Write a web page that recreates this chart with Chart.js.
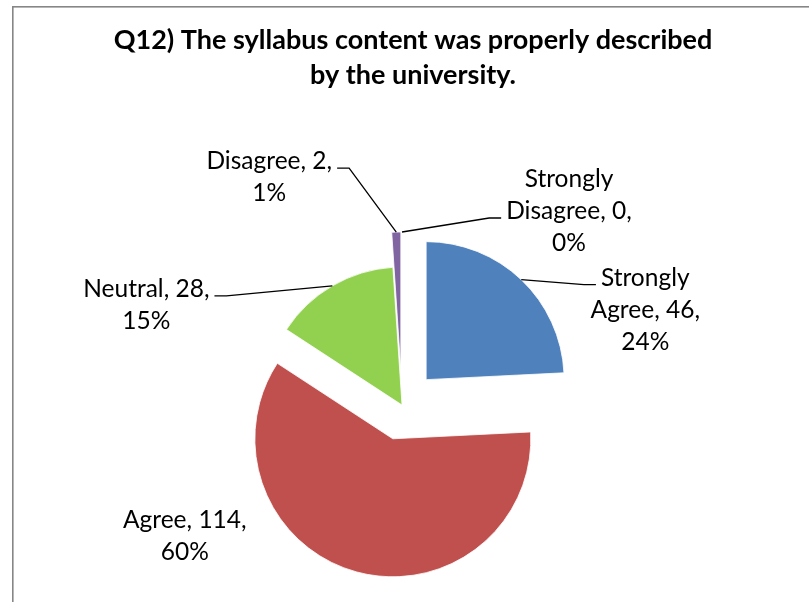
<!DOCTYPE html>
<html><head><meta charset="utf-8">
<script src="https://cdn.jsdelivr.net/npm/chart.js@4.4.1/dist/chart.umd.min.js"></script>
<style>html,body{margin:0;padding:0;background:#fff;}#wrap{width:809px;height:602px;position:relative;}</style>
</head><body><div id="wrap"><canvas id="c" width="809" height="602"></canvas></div>
<script>
// ---- data ----
const categories = ['Strongly Agree', 'Agree', 'Neutral', 'Disagree', 'Strongly Disagree'];
const counts = [46, 114, 28, 2, 0];
const titleLines = ['Q12) The syllabus content was properly described', 'by the university.'];

// ---- styles / layout ----
const colors = ['#4F81BD', '#C0504D', '#92D050', '#8064A2', '#4BACC6'];
const exploded = [true, true, false, true, true];
const EXPLODE = 35;
const RADIUS = 138;
// label block centre relative to the slice's outer mid point; leaderLine = which text line the leader attaches to
const labelOffsets = [[124, 30], [-172, -36], [-186, 19], [-127, -55], [167, -21]];
const leaderLine = [0, null, 0, 0, 1];
const LABEL_FONT = '24.5px Lato, "Open Sans", sans-serif';
const TITLE_FONT = 'bold 27px Lato, "Open Sans", sans-serif';
const LINE_H = 32;

const total = counts.reduce((a, b) => a + b, 0);
function labelTextLines(i) {
  const cat = categories[i];
  const pct = Math.round(counts[i] / total * 100) + '%';
  const words = cat.split(' ');
  const lines = [];
  if (words.length > 1) {
    lines.push(words[0]);
    lines.push(words.slice(1).join(' ') + ', ' + counts[i] + ',');
  } else {
    lines.push(cat + ', ' + counts[i] + ',');
  }
  lines.push(pct);
  return lines;
}

const explodePlugin = {
  id: 'explode',
  beforeDatasetDraw(chart, args) {
    const ctx = chart.ctx;
    const meta = args.meta;
    meta.data.forEach((el, i) => {
      if (counts[i] === 0) return;
      const mid = (el.startAngle + el.endAngle) / 2;
      const d = exploded[i] ? EXPLODE : 0;
      ctx.save();
      ctx.translate(Math.cos(mid) * d, Math.sin(mid) * d);
      el.draw(ctx);
      ctx.restore();
    });
    return false;
  }
};

const decorPlugin = {
  id: 'decor',
  beforeDraw(chart) {
    const ctx = chart.ctx;
    ctx.save();
    ctx.fillStyle = '#fff';
    ctx.fillRect(0, 0, chart.width, chart.height);
    ctx.strokeStyle = '#868686';
    ctx.lineWidth = 1.6;
    ctx.strokeRect(12.8, 6.8, 1000, 1000);
    ctx.restore();
  },
  afterDraw(chart) {
    const ctx = chart.ctx;
    ctx.save();
    // title
    ctx.fillStyle = '#000';
    ctx.font = TITLE_FONT;
    ctx.textAlign = 'center';
    ctx.textBaseline = 'middle';
    titleLines.forEach((t, k) => ctx.fillText(t, 413, 40 + k * 35));

    // data labels
    const meta = chart.getDatasetMeta(0);
    ctx.font = LABEL_FONT;
    meta.data.forEach((el, i) => {
      const mid = (el.startAngle + el.endAngle) / 2;
      const d = exploded[i] ? EXPLODE : 0;
      const px = el.x + Math.cos(mid) * (d + el.outerRadius);
      const py = el.y + Math.sin(mid) * (d + el.outerRadius);
      const cx = px + labelOffsets[i][0];
      const cy = py + labelOffsets[i][1];
      const lines = labelTextLines(i);
      const n = lines.length;
      lines.forEach((t, k) => {
        ctx.fillText(t, cx, cy + (k - (n - 1) / 2) * LINE_H);
      });
      const li = leaderLine[i];
      if (li !== null) {
        const ly = cy + (li - (n - 1) / 2) * LINE_H + 7;
        const w = ctx.measureText(lines[li]).width;
        const side = labelOffsets[i][0] < 0 ? 1 : -1;
        const ex = cx + side * (w / 2 + 5);
        ctx.beginPath();
        ctx.strokeStyle = '#000';
        ctx.lineWidth = 1.3;
        ctx.moveTo(ex, ly);
        ctx.lineTo(ex + side * 12, ly);
        ctx.lineTo(px, py);
        ctx.stroke();
      }
    });
    ctx.restore();
  }
};

new Chart(document.getElementById('c'), {
  type: 'pie',
  data: {
    labels: categories,
    datasets: [{
      data: counts,
      backgroundColor: colors,
      borderColor: '#ffffff',
      borderWidth: 0.8
    }]
  },
  options: {
    responsive: false,
    animation: false,
    events: [],
    radius: RADIUS,
    layout: { padding: { left: 212, right: 217, top: 215, bottom: 7 } },
    plugins: { legend: { display: false }, tooltip: { enabled: false }, title: { display: false } }
  },
  plugins: [explodePlugin, decorPlugin]
});
</script></body></html>
